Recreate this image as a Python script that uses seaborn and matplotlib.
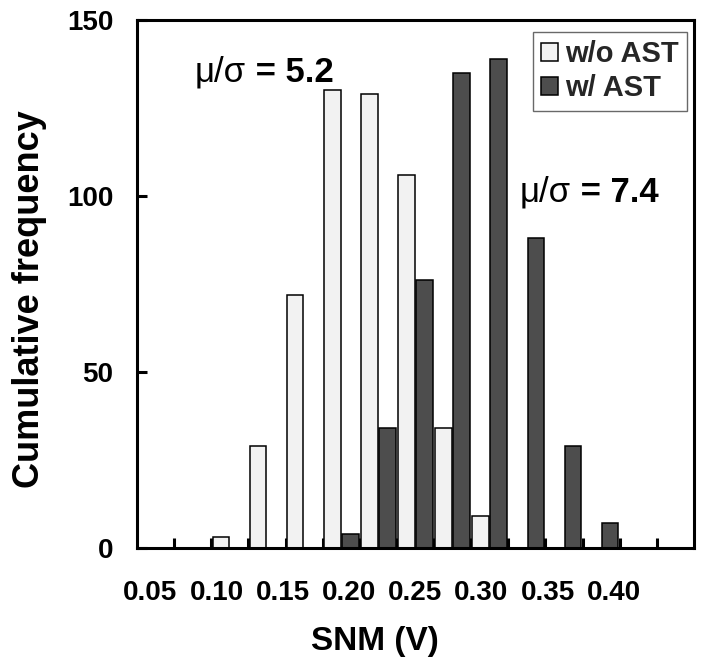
import numpy as np
import pandas as pd
import matplotlib
matplotlib.use("Agg")
import matplotlib.pyplot as plt
import seaborn as sns
from matplotlib.ticker import FixedLocator, NullFormatter, FixedFormatter

# SNM bins (V) and counts per bin
snm_bins = ["0.050", "0.075", "0.100", "0.125", "0.150", "0.175", "0.200", "0.225",
            "0.250", "0.275", "0.300", "0.325", "0.350", "0.375", "0.400"]
wo_ast = [0, 0, 3, 29, 72, 130, 129, 106, 34, 9, 0, 0, 0, 0, 0]
w_ast = [0, 0, 0, 0, 0, 4, 34, 76, 135, 139, 88, 29, 7, 0, 0]
series_names = ["w/o AST", "w/ AST"]
x_tick_labels = ["0.05", "0.10", "0.15", "0.20", "0.25", "0.30", "0.35", "0.40"]
y_ticks = [0, 50, 100, 150]
ratio_symbol = "\u03bc/\u03c3"
ratio_values = [" = 5.2", " = 7.4"]

df = pd.DataFrame({
    "SNM": snm_bins * 2,
    "count": wo_ast + w_ast,
    "series": [series_names[0]] * len(snm_bins) + [series_names[1]] * len(snm_bins),
})

sns.set_theme(style="white")
plt.rcParams["font.family"] = ["Liberation Sans", "DejaVu Sans"]
plt.rcParams["font.weight"] = "bold"

fig = plt.figure(figsize=(7.05, 6.64), dpi=100)
ax = fig.add_axes([0.1943, 0.1747, 0.7901, 0.7952])

sns.barplot(data=df, x="SNM", y="count", hue="series", order=snm_bins,
            hue_order=series_names,
            palette={series_names[0]: "#F2F2F2", series_names[1]: "#4D4D4D"},
            saturation=1, edgecolor="black", linewidth=1.1,
            width=0.97, gap=0.08, ax=ax)

ax.set_xlim(-0.5, len(snm_bins) - 0.5)
ax.set_ylim(0, 150)

# tick marks at bin boundaries, labels spread along the axis
ax.xaxis.set_major_locator(FixedLocator(np.arange(0.5, len(snm_bins) - 1, 1)))
ax.xaxis.set_major_formatter(NullFormatter())
label_pos = np.linspace(-0.14, 12.34, len(x_tick_labels))
ax.xaxis.set_minor_locator(FixedLocator(label_pos))
ax.xaxis.set_minor_formatter(FixedFormatter(x_tick_labels))
ax.tick_params(axis="x", which="major", direction="in", length=7, width=2.2,
               color="black", bottom=True, top=False)
ax.tick_params(axis="x", which="minor", length=0, pad=23, labelsize=20,
               labelcolor="black", bottom=True)

ax.set_yticks(y_ticks)
ax.tick_params(axis="y", direction="in", length=7, width=2.2, color="black",
               left=True, right=False, pad=17, labelsize=20, labelcolor="black")

for lab in ax.get_xticklabels(minor=True) + ax.get_yticklabels():
    lab.set_fontweight("bold")

for side in ["left", "bottom", "top", "right"]:
    ax.spines[side].set_visible(True)
    ax.spines[side].set_color("black")
    ax.spines[side].set_linewidth(2.2)

ax.set_xlabel("SNM (V)", fontsize=24, fontweight="bold", color="black")
ax.xaxis.set_label_coords(0.427, -0.147)
ax.set_ylabel("Cumulative frequency", fontsize=26, fontweight="bold", color="black")
ax.yaxis.set_label_coords(-0.162, 0.472)

# mu/sigma annotations: Greek in regular weight, value in bold
for (x, y), val in zip([(1.06, 132.4), (9.80, 98.4)], ratio_values):
    sym = ax.text(x, y, ratio_symbol, fontsize=25, fontweight="normal",
                  va="baseline", ha="left", color="black")
    ax.annotate(val, xy=(1, 0), xycoords=sym, fontsize=25, fontweight="bold",
                va="bottom", ha="left", color="black")

handles, labels = ax.get_legend_handles_labels()
leg = ax.legend(handles, labels, loc="upper right", bbox_to_anchor=(0.988, 0.978),
                borderaxespad=0, frameon=True, fancybox=False,
                edgecolor="#444444", handlelength=0.55, handleheight=0.55,
                handletextpad=0.25, labelspacing=0.2, borderpad=0.3,
                prop={"weight": "bold", "size": 21})
leg.get_frame().set_linewidth(1.0)

fig.savefig("out.png", dpi=100)
